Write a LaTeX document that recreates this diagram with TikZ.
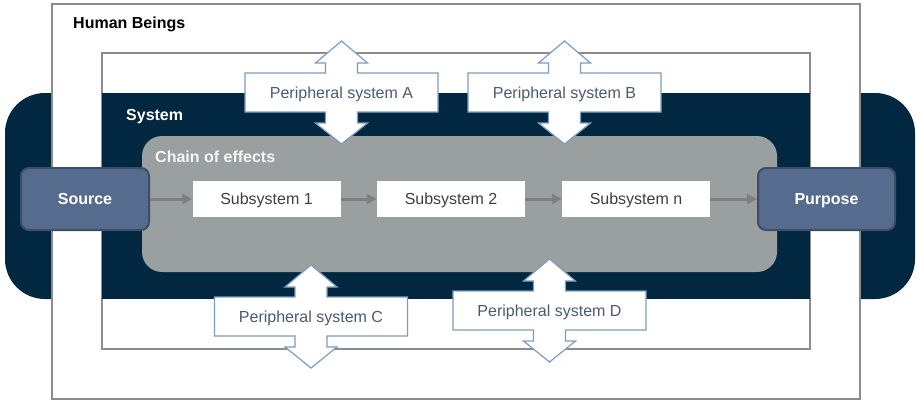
\documentclass[tikz,border=0pt]{standalone}
\usepackage{fontspec}
\setmainfont{Liberation Sans}
\usetikzlibrary{arrows.meta}

\definecolor{navy}{HTML}{022741}
\definecolor{framegray}{HTML}{8C8C8C}
\definecolor{chaingray}{HTML}{9A9F9F}
\definecolor{endfill}{HTML}{566C8F}
\definecolor{enddraw}{HTML}{3E4E68}
\definecolor{periphblue}{HTML}{7D9CC1}
\definecolor{periphtext}{HTML}{4C5B70}
\definecolor{subtext}{HTML}{3F3F3F}
\definecolor{flowgray}{HTML}{7F7F7F}

\begin{document}
\begin{tikzpicture}[
  x = 1pt, y = -1pt,
  frame/.style = {
    draw = framegray,
    fill = white,
    line width = 2.5pt,
  },
  title/.style = {
    anchor = west,
    inner sep = 0pt,
    font = \fontsize{16}{19}\selectfont\bfseries,
  },
  endbox/.style = {
    shape = rectangle,
    rounded corners = 8pt,
    draw = enddraw,
    fill = endfill,
    line width = 2pt,
    text = white,
    text height = 11.5pt,
    text depth = 0pt,
    minimum height = 62pt,
    font = \fontsize{16}{19}\selectfont\bfseries,
  },
  subbox/.style = {
    fill = white,
    text = subtext,
    text height = 11.5pt,
    text depth = 0pt,
    minimum width = 148pt,
    minimum height = 36pt,
    font = \fontsize{16}{19}\selectfont,
  },
  periph/.style = {
    draw = periphblue,
    fill = white,
    line width = 1.2pt,
  },
  periphlabel/.style = {
    text = periphtext,
    inner sep = 0pt,
    text height = 11.5pt,
    text depth = 0pt,
    font = \fontsize{16}{19}\selectfont,
  },
  flow/.style = {
    draw = flowgray,
    line width = 3pt,
    -{Triangle[length = 10pt, width = 10pt]},
  }
]
  \useasboundingbox (0,0) rectangle (917,402);

  % frames
  \fill[navy, rounded corners = 40pt] (5,93) rectangle (915,299);
  \draw[frame] (52,4) rectangle (860,399);
  \draw[frame] (102,53) rectangle (810,349);
  \fill[navy] (102,93) rectangle (810,299);
  \fill[chaingray, rounded corners = 20pt] (142,136) rectangle (777,272);

  \node[title, text = black] (human) at (73,24) {Human Beings};
  \node[title, text = white] (system) at (126,117) {System};
  \node[title, text = white!92!chaingray] (chain) at (155,157) {Chain of effects};

  % peripheral systems
  \foreach \cx/\ty/\lbl in {341.5/73/A, 564.5/73/B, 311/297/C, 549.5/291/D} {
    \draw[periph] (\cx,\ty-32) -- (\cx+26,\ty-10) -- (\cx+16,\ty-10)
      -- (\cx+16,\ty) -- (\cx+96.5,\ty) -- (\cx+96.5,\ty+39) -- (\cx+16,\ty+39)
      -- (\cx+16,\ty+50) -- (\cx+26,\ty+50) -- (\cx,\ty+71) -- (\cx-26,\ty+50)
      -- (\cx-16,\ty+50) -- (\cx-16,\ty+39) -- (\cx-96.5,\ty+39) -- (\cx-96.5,\ty)
      -- (\cx-16,\ty) -- (\cx-16,\ty-10) -- (\cx-26,\ty-10) -- cycle;
    \node[periphlabel] (p\lbl) at (\cx,\ty+19.5) {Peripheral system \lbl};
  }

  % chain
  \node[endbox, minimum width = 128pt] (src) at (85,199) {Source};
  \node[endbox, minimum width = 137pt] (purp) at (826.5,199) {Purpose};
  \node[subbox] (s1) at (266.5,199) {Subsystem 1};
  \node[subbox] (s2) at (451,199) {Subsystem 2};
  \node[subbox] (sn) at (636,199) {Subsystem n};

  \draw[flow] (src) -- (s1);
  \draw[flow] (s1) -- (s2);
  \draw[flow] (s2) -- (sn);
  \draw[flow] (sn) -- (purp);
\end{tikzpicture}
\end{document}
